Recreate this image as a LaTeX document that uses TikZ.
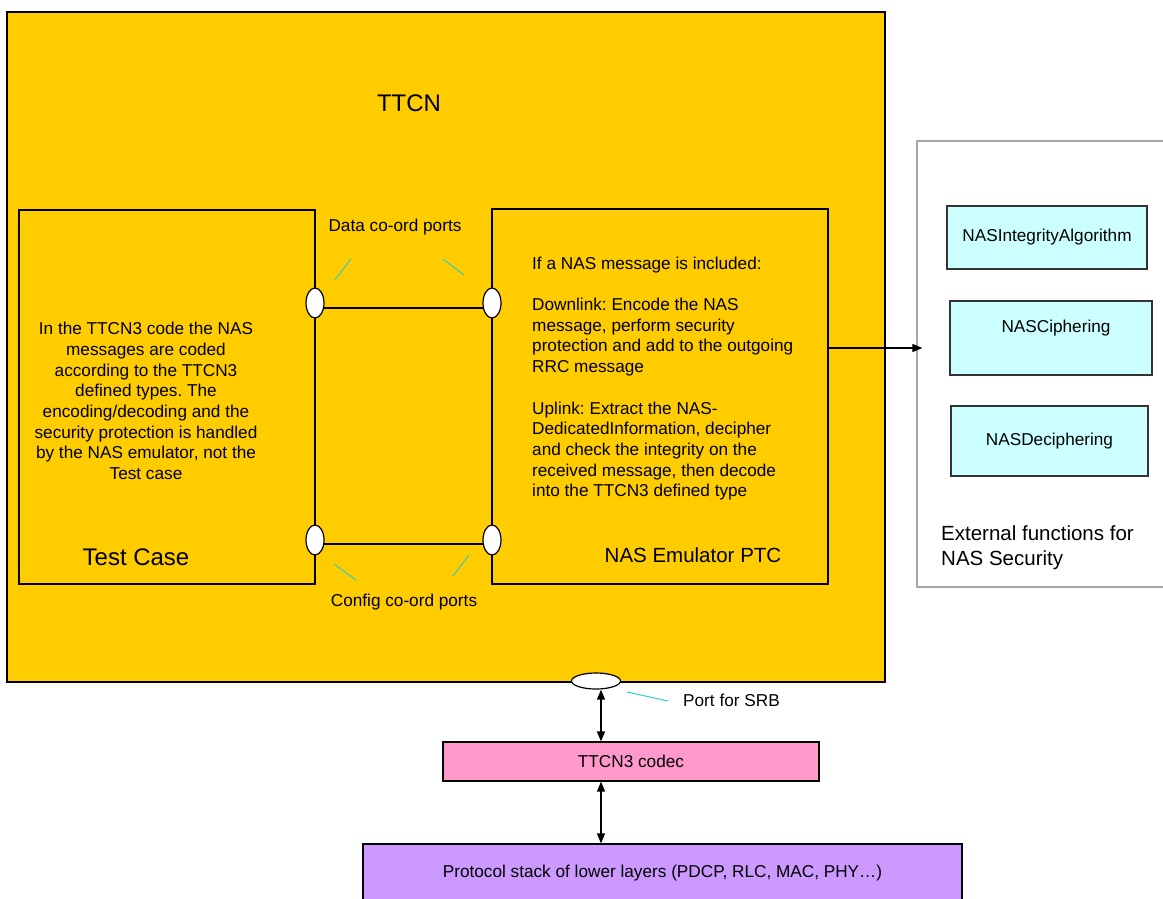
\documentclass[tikz,border=0pt]{standalone}
\usepackage{fontspec}
\setmainfont{Liberation Sans}
\usetikzlibrary{shapes.geometric,arrows.meta}
\definecolor{ttcnfill}{HTML}{FFCC00}
\definecolor{codecfill}{HTML}{FF99CC}
\definecolor{protofill}{HTML}{CC99FF}
\definecolor{extfill}{HTML}{CCFFFF}
\definecolor{pointer}{HTML}{33CCCC}
\definecolor{extborder}{HTML}{A6A6A6}
\newcommand{\fsmall}{\fontsize{17.2}{20.7}\selectfont}
\newcommand{\fmid}{\fontsize{20.5}{25}\selectfont}
\newcommand{\fbig}{\fontsize{24}{28}\selectfont}
\frenchspacing
\begin{document}
\begin{tikzpicture}[x=1pt,y=-1pt,
  box/.style={draw=black, line width=1.2pt, inner sep=0pt, anchor=center},
  port/.style={ellipse, draw=black, fill=white, line width=1.2pt, inner sep=0pt},
  funcbox/.style={draw=black!80, line width=1.2pt, fill=extfill, inner sep=0pt, font=\fsmall},
  lbl/.style={inner sep=0pt, font=\fsmall},
  pointerline/.style={draw=pointer, line width=1pt},
  arr/.style={line width=1.4pt, -{Triangle[length=10pt,width=8pt]}},
  darr/.style={line width=1.4pt, {Triangle[length=10pt,width=8pt]}-{Triangle[length=10pt,width=8pt]}}
]
\useasboundingbox (0,0) rectangle (1163,898);
\fill[white] (0,0) rectangle (1163,898);

% main TTCN box
\node[box, fill=ttcnfill, minimum width=878pt, minimum height=670pt] (ttcn) at (446,347) {};
\node[lbl, font=\fbig] (ttcnlbl) at (409,103) {TTCN};

% Test case box
\node[box, minimum width=296pt, minimum height=374pt] (test) at (167,397) {};
\node[lbl, align=center] (testtxt) at (146,401) {In the TTCN3 code the NAS\\messages are coded\\according to the TTCN3\\defined types. The\\encoding/decoding and the\\security protection is handled\\by the NAS emulator, not the\\Test case};
\node[lbl, font=\fbig] (testlbl) at (136,557) {Test Case};

% NAS Emulator box
\node[box, minimum width=336pt, minimum height=375pt] (emu) at (660,396.5) {};
\node[lbl, align=left, anchor=north west] (emutxt) at (532,256.5) {If a NAS message is included:\\[20.7pt]Downlink: Encode the NAS\\message, perform security\\protection and add to the outgoing\\RRC message\\[20.7pt]Uplink: Extract the NAS-\\DedicatedInformation, decipher\\and check the integrity on the\\received message, then decode\\into the TTCN3 defined type};
\node[lbl, font=\fmid] (emulbl) at (693,555) {NAS Emulator PTC};

% port connections
\draw[line width=1.2pt] (324,308) coordinate (d1) -- (484,308) coordinate (d2);
\draw[line width=1.2pt] (324,544) coordinate (c1) -- (484,544) coordinate (c2);
\node[port, minimum width=18pt, minimum height=30pt] (pd1) at (315,303) {};
\node[port, minimum width=18pt, minimum height=30pt] (pd2) at (492,303) {};
\node[port, minimum width=18pt, minimum height=30pt] (pc1) at (315,540) {};
\node[port, minimum width=18pt, minimum height=30pt] (pc2) at (492,540) {};

\node[lbl] (datalbl) at (395,227) {Data co-ord ports};
\node[lbl] (conflbl) at (404,602) {Config co-ord ports};
\draw[pointerline] (335,280) -- (351,259);
\draw[pointerline] (443,259) -- (464,275);
\draw[pointerline] (334,564) -- (356,580);
\draw[pointerline] (469,555) -- (453,576);

% external functions
\node[draw=extborder, line width=1.3pt, fill=white, inner sep=0pt, minimum width=260pt, minimum height=446pt] (ext) at (1047,364) {};
\node[funcbox, minimum width=200pt, minimum height=63pt] (integ) at (1047,237.5) {NASIntegrityAlgorithm};
\node[funcbox, minimum width=202pt, minimum height=74pt] (ciph) at (1051,338) {};
\node[lbl] (ciphlbl) at (1056,328) {NASCiphering};
\node[funcbox, minimum width=197pt, minimum height=70pt] (deciph) at (1049.5,441) {NASDeciphering};
\node[lbl, font=\fmid, align=left, anchor=west] (extlbl) at (941,547.5) {External functions for\\NAS Security};

\draw[arr, shorten >=-6pt] (emu.east |- 0,348) -- (ext.west |- 0,348);

% SRB port and lower layers
\node[port, minimum width=49pt, minimum height=16pt] (srb) at (596,681) {};
\draw[pointerline] (627,692) -- (668,701);
\node[lbl, anchor=west] (srblbl) at (683,700) {Port for SRB};

\node[box, fill=codecfill, minimum width=376pt, minimum height=39pt, font=\fsmall] (codec) at (631,761.5) {TTCN3 codec};
\node[box, fill=protofill, minimum width=599pt, minimum height=58pt, font=\fsmall] (proto) at (662.5,873) {Protocol stack of lower layers (PDCP, RLC, MAC, PHY\dots)};

\draw[darr] (srb.south -| 601,0) -- (codec.north -| 601,0);
\draw[darr] (codec.south -| 601,0) -- (proto.north -| 601,0);
\end{tikzpicture}
\end{document}
